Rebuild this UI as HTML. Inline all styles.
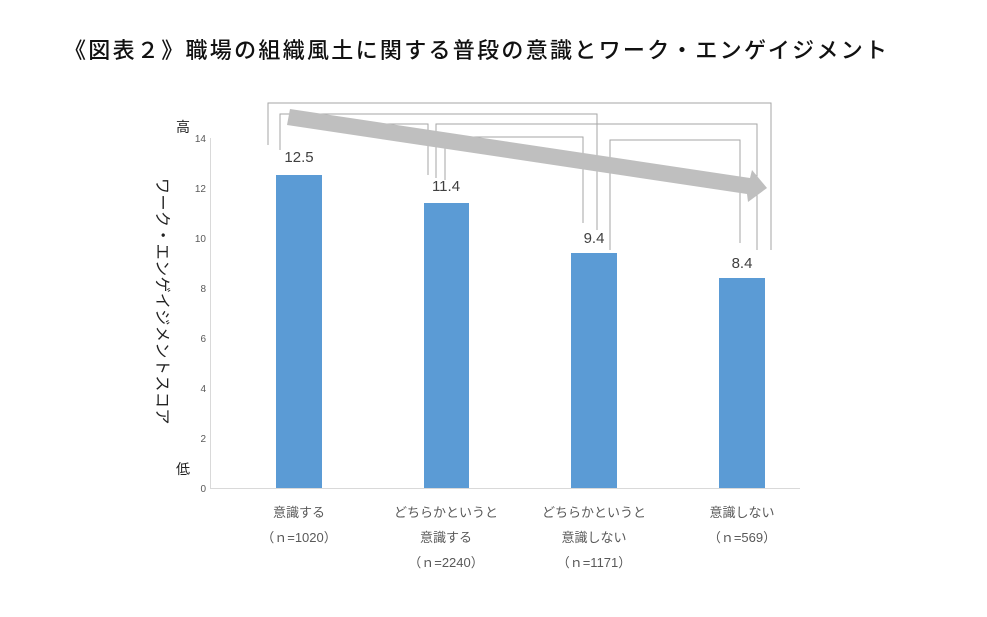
<!DOCTYPE html>
<html><head><meta charset="utf-8"><style>
body{margin:0;background:#fff;}
svg text{font-family:"Liberation Sans","Noto Sans CJK JP",sans-serif;}
</style></head><body>
<svg width="987" height="612" viewBox="0 0 987 612" xmlns="http://www.w3.org/2000/svg">
<rect width="987" height="612" fill="#fff"/>
<text x="64" y="58" font-size="22" letter-spacing="2.3" fill="#111" font-weight="500">《図表２》職場の組織風土に関する普段の意識とワーク・エンゲイジメント</text>
<!-- axis -->
<line x1="210.5" y1="138" x2="210.5" y2="488" stroke="#d9d9d9"/>
<line x1="210" y1="488.5" x2="800" y2="488.5" stroke="#d9d9d9"/>
<g font-size="10" fill="#595959" text-anchor="end">
<text x="206" y="492">0</text><text x="206" y="442">2</text><text x="206" y="392">4</text>
<text x="206" y="342">6</text><text x="206" y="292">8</text><text x="206" y="242">10</text>
<text x="206" y="192">12</text><text x="206" y="142">14</text>
</g>
<text x="183" y="132" font-size="14" fill="#222" text-anchor="middle">高</text>
<text x="183" y="474" font-size="14" fill="#222" text-anchor="middle">低</text>
<text transform="translate(157,178) rotate(90)" font-size="16" fill="#222" letter-spacing="0.5">ワーク・エンゲイジメントスコア</text>
<!-- bars -->
<g fill="#5b9bd5">
<rect x="276" y="175" width="46" height="313"/>
<rect x="424" y="203" width="45" height="285"/>
<rect x="571" y="253" width="46" height="235"/>
<rect x="719" y="278" width="46" height="210"/>
</g>
<g font-size="15" fill="#404040" text-anchor="middle">
<text x="299" y="162">12.5</text><text x="446" y="191">11.4</text>
<text x="594" y="243">9.4</text><text x="742" y="268">8.4</text>
</g>
<!-- brackets -->
<g fill="none" stroke="#a6a6a6" stroke-width="1">
<polyline points="268,145 268,103 771,103 771,250"/>
<polyline points="280,150 280,114 597,114 597,230"/>
<polyline points="290,124 428,124 428,175"/>
<polyline points="436,178 436,124 757,124 757,250"/>
<polyline points="445,180 445,137 583,137 583,223"/>
<polyline points="610,250 610,140 740,140 740,243"/>
</g>
<!-- arrow -->
<polygon points="290,109 750,178 752,170 767,188 748,202 747,194 287,125" fill="#bfbfbf"/>
<!-- categories -->
<g font-size="13" fill="#595959" text-anchor="middle">
<text x="299" y="517">意識する</text><text x="299" y="542">（ｎ=1020）</text>
<text x="446" y="517">どちらかというと</text><text x="446" y="542">意識する</text><text x="446" y="567">（ｎ=2240）</text>
<text x="594" y="517">どちらかというと</text><text x="594" y="542">意識しない</text><text x="594" y="567">（ｎ=1171）</text>
<text x="742" y="517">意識しない</text><text x="742" y="542">（ｎ=569）</text>
</g>
</svg>
</body></html>
